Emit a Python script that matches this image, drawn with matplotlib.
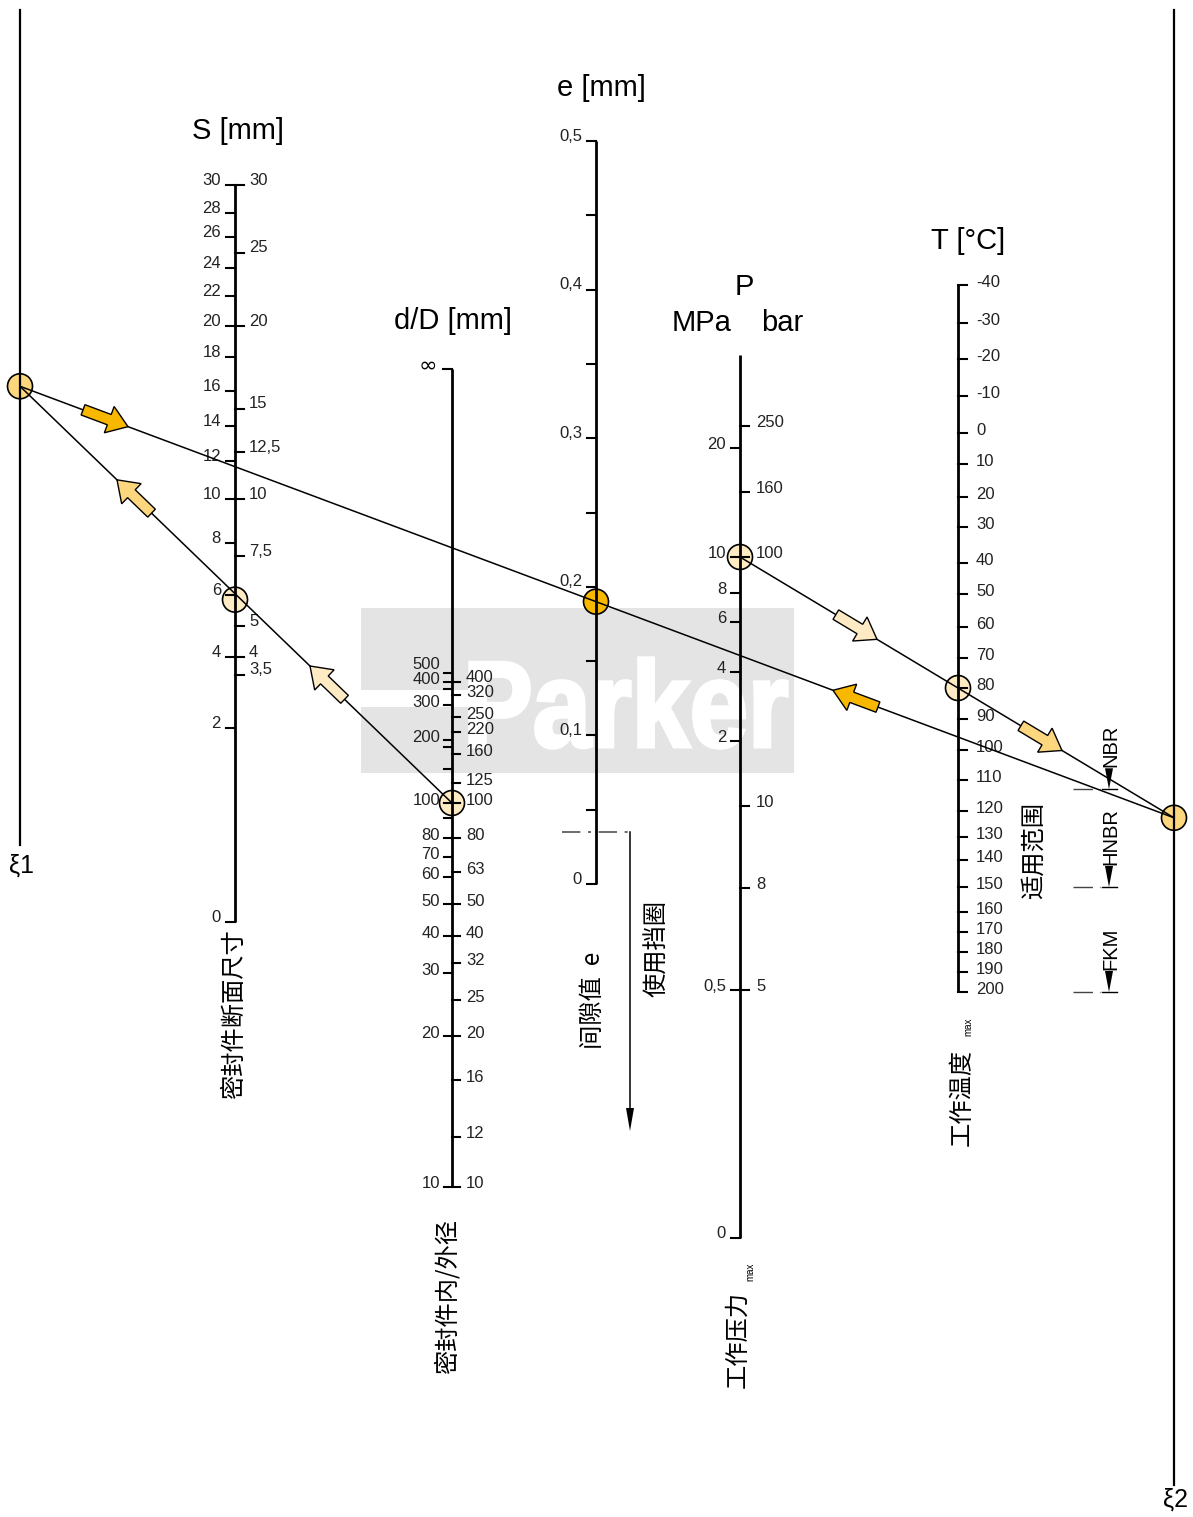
import matplotlib
matplotlib.use('Agg')
import matplotlib.pyplot as plt
import numpy as np
from matplotlib import font_manager
from matplotlib.patches import Circle, FancyArrow, Rectangle, PathPatch, Polygon
from matplotlib.textpath import TextPath
from matplotlib.font_manager import FontProperties
from matplotlib.transforms import Affine2D

names = {f.name for f in font_manager.fontManager.ttflist}
BASE = 'Liberation Sans'
NARROW = 'Liberation Sans Narrow' if 'Liberation Sans Narrow' in names else BASE
plt.rcParams['font.family'] = [BASE, 'Noto Sans CJK SC', 'DejaVu Sans']
CJK = ['Noto Sans CJK SC', BASE]
TICK_FS = 13 if NARROW != BASE else 12

# ---- 数据 ----
# S [mm] 密封件断面尺寸
s_left = [0, 2, 4, 6, 8, 10, 12, 14, 16, 18, 20, 22, 24, 26, 28, 30]
s_right = [3.5, 4, 5, 7.5, 10, 12.5, 15, 20, 25, 30]
s_right_lbl = ['3,5', '4', '5', '7,5', '10', '12,5', '15', '20', '25', '30']
# 刻度标定 (数值 -> 图上位置)
s_cal_v = [0, 2, 4, 6, 8, 10, 12, 14, 16, 18, 20, 22, 24, 26, 28, 30]
s_cal_y = [922, 728, 657, 595, 543, 499, 461, 426, 391, 357, 326, 296, 268, 237, 213, 185]

# d/D [mm] 密封件内/外径
d_left = [10, 20, 30, 40, 50, 60, 70, 80, 90, 100, 140, 180, 200, 300, 350, 400, 500]
d_left_lbl = ['10', '20', '30', '40', '50', '60', '70', '80', '', '100', '', '', '200', '300', '', '400', '500']
d_right = [10, 12, 16, 20, 25, 32, 40, 50, 63, 80, 100, 125, 160, 220, 250, 320, 400]
d_cal_v = [10, 12, 16, 20, 25, 30, 32, 40, 50, 60, 63, 70, 80, 90, 100, 125, 140,
           160, 180, 200, 220, 250, 300, 320, 350, 400, 500]
d_cal_y = [1187, 1137, 1080, 1036, 1000, 973, 963, 936, 904, 877, 872, 857, 838, 818, 803,
           783, 769, 754, 747, 740, 732, 717, 705, 695, 689, 682, 673]

# e [mm] 间隙值
e_ticks = [0, 0.05, 0.1, 0.15, 0.2, 0.25, 0.3, 0.35, 0.4, 0.45, 0.5]
e_lbl = ['0', '', '0,1', '', '0,2', '', '0,3', '', '0,4', '', '0,5']
e_cal_v = [0, 0.5]
e_cal_y = [884, 141]
e_ring = 0.035  # 使用挡圈

# P 工作压力 (MPa / bar)
p_mpa = [0, 0.5, 2, 4, 6, 8, 10, 20]
p_mpa_lbl = ['0', '0,5', '2', '4', '6', '8', '10', '20']
p_bar = [5, 8, 10, 100, 160, 250]
p_cal_v = [0, 0.5, 0.8, 1, 2, 4, 6, 8, 10, 16, 20, 25]
p_cal_y = [1238, 990, 888, 806, 741, 672, 622, 593, 557, 492, 448, 426]

# T [°C] 工作温度
t_ticks = list(range(-40, 201, 10))
t_cal_y = [285, 323, 359, 396, 433, 464, 497, 527, 563, 594, 627, 658, 688,
           719, 750, 780, 811, 837, 860, 887, 912, 932, 952, 972, 992]
materials = ['NBR', 'HNBR', 'FKM']
mat_limit = [113, 150, 200]

# 示例读数
s_pick = 5.85
d_pick = 100
e_pick = 0.19
p_pick = 10
t_pick = 80

# ---- 位置与样式 ----
X_XI1, X_S, X_D, X_E, X_P, X_T, X_XI2 = 20, 235, 452, 596, 740, 958, 1174
STRONG, LIGHT, PALE = '#F9B800', '#FDD77D', '#FEEBC3'


def sy(v):
    return np.interp(v, s_cal_v, s_cal_y)


def dy(v):
    return np.interp(v, d_cal_v, d_cal_y)


def ey(v):
    return np.interp(v, e_cal_v, e_cal_y)


def py(v):
    return np.interp(v, p_cal_v, p_cal_y)


def ty(v):
    return np.interp(v, t_ticks, t_cal_y)


fig = plt.figure(figsize=(11.93, 15.17), dpi=100)
ax = fig.add_axes([0, 0, 1, 1])
ax.set_xlim(0, 1193)
ax.set_ylim(1517, 0)
ax.axis('off')


def axis_line(x, y0, y1, lw=2.0):
    ax.plot([x, x], [y0, y1], color='black', lw=lw, solid_capstyle='butt', zorder=3)


def ticks(x, ys, labels, side, tl=9, off=-4, gap=5, min_sep=0):
    ys = np.atleast_1d(ys)
    # 标签位置: 从下往上, 太挤时向上推
    order = np.argsort(-ys)
    ty_lab = {}
    prev = None
    for i in order:
        if not labels[i]:
            continue
        yl = ys[i] + off
        if prev is not None and min_sep and yl > prev - min_sep:
            yl = prev - min_sep
        ty_lab[i] = yl
        prev = yl
    for i, y in enumerate(ys):
        if side == 'left':
            ax.plot([x - tl, x], [y, y], color='black', lw=1.5, zorder=3)
            if i in ty_lab:
                ax.text(x - tl - gap, ty_lab[i], labels[i], ha='right', va='center',
                        fontsize=TICK_FS, family=NARROW, color='#222222', zorder=3)
        else:
            ax.plot([x, x + tl], [y, y], color='black', lw=1.5, zorder=3)
            if i in ty_lab:
                ax.text(x + tl + gap, ty_lab[i], labels[i], ha='left', va='center',
                        fontsize=TICK_FS, family=NARROW, color='#222222', zorder=3)


# 水印
ax.add_patch(Rectangle((361, 608), 433, 165, fc='#E3E4E3', ec='none', zorder=0))
ax.add_patch(Rectangle((361, 690), 115, 17, fc='white', ec='none', zorder=0.5))
tp = TextPath((0, 0), 'Parker', size=100, prop=FontProperties(family=BASE, weight='bold'))
bb = tp.get_extents()
tr = Affine2D().translate(-bb.x0, -bb.y0).scale(317 / bb.width, -90 / bb.height).translate(470, 748)
ax.add_patch(PathPatch(tr.transform_path(tp), fc='white', ec='white', lw=2.5, zorder=0.5))

# ξ 线
ax.plot([X_XI1, X_XI1], [10, 845], color='black', lw=1.6, zorder=3)
ax.plot([X_XI2, X_XI2], [10, 1485], color='black', lw=1.6, zorder=3)
ax.text(X_XI1 + 2, 866, 'ξ1', fontsize=18, ha='center', va='center')
ax.text(X_XI2 + 2, 1500, 'ξ2', fontsize=18, ha='center', va='center')

# S 轴
axis_line(X_S, sy(30), sy(0))
ticks(X_S, sy(s_left), [str(v) for v in s_left], 'left', off=-5)
ticks(X_S, sy(s_right), s_right_lbl, 'right', off=-5, min_sep=13)
ax.text(238, 131, 'S [mm]', fontsize=21, ha='center', va='center')
ax.text(234, 1014, '密封件断面尺寸', fontsize=17.5, rotation=90, ha='center', va='center', family=CJK)

# d/D 轴
axis_line(X_D, 369, dy(10))
ticks(X_D, [369], [''], 'left')
ax.text(428, 366, '∞', fontsize=16, ha='center', va='center', family=['DejaVu Sans'])
ticks(X_D, dy(d_left), d_left_lbl, 'left', tl=8, off=-3, gap=4, min_sep=15)
ticks(X_D, dy(d_right), [str(v) for v in d_right], 'right', tl=8, off=-3, gap=6, min_sep=15)
ax.text(453, 321, 'd/D [mm]', fontsize=21, ha='center', va='center')
ax.text(448, 1296, '密封件内/外径', fontsize=17.5, rotation=90, ha='center', va='center', family=CJK)

# e 轴
axis_line(X_E, ey(0.5), ey(0))
ticks(X_E, ey(e_ticks), e_lbl, 'left', off=-5)
ax.text(601, 88, 'e [mm]', fontsize=21, ha='center', va='center')
ax.text(593, 1000, '间隙值  e', fontsize=17.5, rotation=90, ha='center', va='center', family=CJK)
# 使用挡圈
y_ring = ey(e_ring)
ax.plot([562, 630], [y_ring, y_ring], color='#444444', lw=1.1, dashes=(12, 5, 2, 5), zorder=3)
ax.plot([630, 630], [y_ring, 1110], color='black', lw=1.1, zorder=3)
ax.add_patch(Polygon([[626, 1108], [634, 1108], [630, 1131]], closed=True, fc='black', ec='none', zorder=3))
ax.text(657, 948, '使用挡圈', fontsize=17.5, rotation=90, ha='center', va='center', family=CJK)

# P 轴
axis_line(X_P, 355, py(0))
ticks(X_P, py(p_mpa), p_mpa_lbl, 'left', off=-4)
ticks(X_P, py(np.array(p_bar) / 10), [str(v) for v in p_bar], 'right', off=-4, gap=7)
ax.text(744, 287, 'P', fontsize=21, ha='center', va='center')
ax.text(702, 323, 'MPa', fontsize=21, ha='center', va='center')
ax.text(782, 323, 'bar', fontsize=21, ha='center', va='center')
ax.text(737, 1340, '工作压力', fontsize=17.5, rotation=90, ha='center', va='center', family=CJK)
ax.text(750, 1272, 'max', fontsize=7, rotation=90, ha='center', va='center')

# T 轴
axis_line(X_T, ty(-40), ty(200))
ticks(X_T, ty(t_ticks), [str(v) for v in t_ticks], 'right', off=-3, gap=9)
ax.text(968, 241, 'T [°C]', fontsize=21, ha='center', va='center')
ax.text(962, 1098, '工作温度', fontsize=17.5, rotation=90, ha='center', va='center', family=CJK)
ax.text(968, 1027, 'max', fontsize=7, rotation=90, ha='center', va='center')
ax.text(1034, 850, '适用范围', fontsize=17.5, rotation=90, ha='center', va='center', family=CJK)

# 材料适用范围
for mat, lim in zip(materials, mat_limit):
    yl = ty(lim)
    ax.plot([1073, 1100], [yl, yl], color='#444444', lw=1.0, dashes=(14, 5, 2, 5), zorder=3)
    ax.plot([1102, 1117], [yl, yl], color='black', lw=1.0, zorder=3)
    ax.add_patch(Polygon([[1105, yl - 21], [1113, yl - 21], [1109, yl]], closed=True,
                         fc='black', ec='none', zorder=3))
    ax.text(1111, yl - 22, mat, fontsize=14.5, rotation=90, ha='center', va='bottom')

# 连线与读数点
pS = (X_S, sy(s_pick))
pD = (X_D, dy(d_pick))
pE = (X_E, ey(e_pick))
pP = (X_P, py(p_pick))
pT = (X_T, ty(t_pick))
# ξ2 = P-T 连线延长; ξ1 = ξ2-e 连线延长
k_c = (pT[1] - pP[1]) / (pT[0] - pP[0])
pX2 = (X_XI2, pT[1] + k_c * (X_XI2 - pT[0]))
k_a = (pX2[1] - pE[1]) / (pX2[0] - pE[0])
pX1 = (X_XI1, pE[1] + k_a * (X_XI1 - pE[0]))

lines = {'A': (pX1, pX2), 'B': (pX1, pD), 'C': (pP, pX2)}
for a, b in lines.values():
    ax.plot([a[0], b[0]], [a[1], b[1]], color='black', lw=1.1, zorder=4)

for p, c in [(pX1, LIGHT), (pS, PALE), (pD, PALE), (pE, STRONG), (pP, PALE), (pT, PALE), (pX2, LIGHT)]:
    ax.add_patch(Circle(p, 12.5, fc=c, ec='black', lw=1.2, zorder=2))

# 方向箭头 (所在连线, 箭头尖 x, 方向, 颜色)
arrow_specs = [('A', 128, 1, STRONG), ('B', 117, -1, LIGHT), ('B', 310, -1, PALE),
               ('C', 877, 1, PALE), ('C', 1062, 1, LIGHT), ('A', 833, -1, STRONG)]
L = 48
for key, xt, sgn, col in arrow_specs:
    a, b = lines[key]
    yt = np.interp(xt, [a[0], b[0]], [a[1], b[1]])
    u = np.array([b[0] - a[0], b[1] - a[1]], dtype=float)
    u = u / np.hypot(*u) * sgn
    tail = np.array([xt, yt]) - u * L
    ax.add_patch(FancyArrow(tail[0], tail[1], u[0] * L, u[1] * L, width=11, head_width=28,
                            head_length=20, length_includes_head=True, fc=col, ec='black',
                            lw=1.0, zorder=6))

fig.savefig('out.png', dpi=100)
